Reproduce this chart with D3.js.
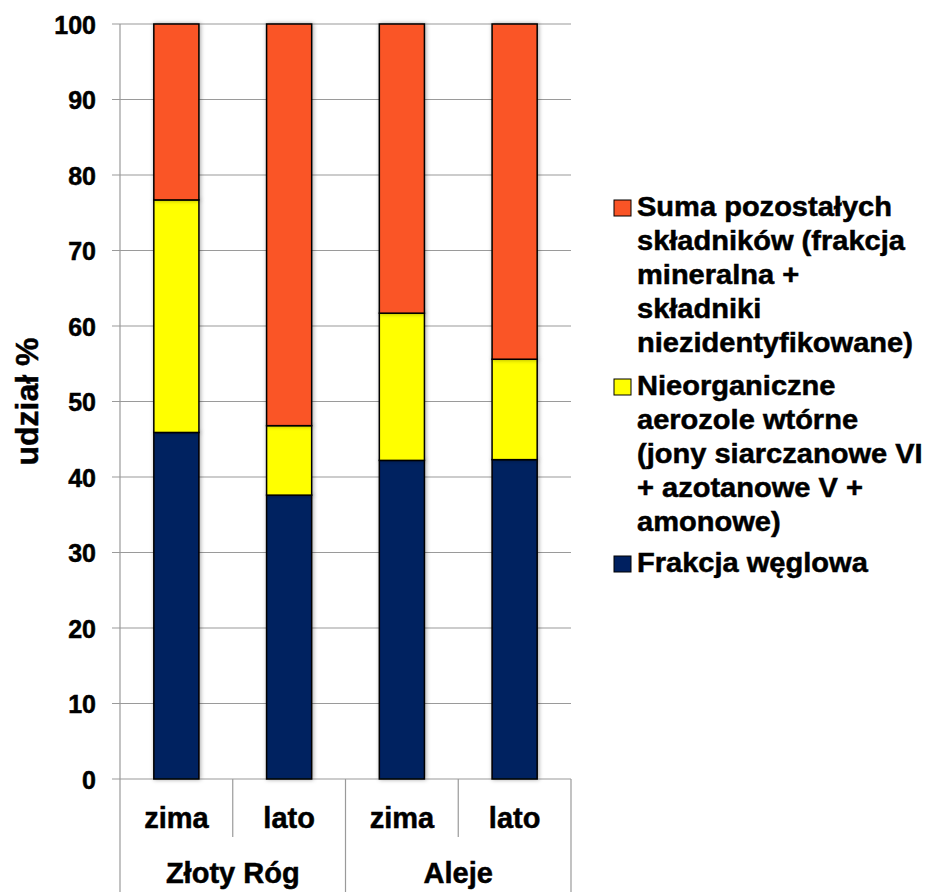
<!DOCTYPE html>
<html>
<head>
<meta charset="utf-8">
<script src="https://cdn.jsdelivr.net/npm/d3@7"></script>
<style>
  body { margin: 0; background: #fff; }
  text { font-family: "Liberation Sans", Arial, sans-serif; font-weight: bold; fill: #000; stroke: #000; stroke-width: 0.5px; }
</style>
</head>
<body>
<svg id="chart" width="927" height="892"></svg>
<script>
const seasons = ["zima", "lato", "zima", "lato"];
const sites = ["Złoty Róg", "Aleje"];
const carbon = [45.9, 37.6, 42.2, 42.3];
const secondary = [30.8, 9.2, 19.5, 13.3];
const rest = [23.3, 53.2, 38.3, 44.4];
const yTicks = [0, 10, 20, 30, 40, 50, 60, 70, 80, 90, 100];

const colors = ["#002060", "#FFFF00", "#FA5426"];
const legendLines = [
  ["Suma pozostałych", "składników (frakcja", "mineralna +", "składniki", "niezidentyfikowane)"],
  ["Nieorganiczne", "aerozole wtórne", "(jony siarczanowe VI", "+ azotanowe V +", "amonowe)"],
  ["Frakcja węglowa"]
];
const legendColors = ["#FA5426", "#FFFF00", "#002060"];

const svg = d3.select("#chart");
const margin = { top: 24, left: 120, right: 356, bottom: 113 };
const width = 927 - margin.left - margin.right;
const height = 892 - margin.top - margin.bottom;

const defs = svg.append("defs");
const filter = defs.append("filter").attr("id", "shadow")
  .attr("x", "-20%").attr("y", "-5%").attr("width", "140%").attr("height", "110%");
filter.append("feDropShadow").attr("dx", 1).attr("dy", 0).attr("stdDeviation", 2)
  .attr("flood-color", "#000").attr("flood-opacity", 0.35);

const g = svg.append("g").attr("transform", `translate(${margin.left},${margin.top})`);

const idx = d3.range(seasons.length);
const x = d3.scaleBand().domain(idx).range([0, width]).paddingInner(0.6).paddingOuter(0.3);
const y = d3.scaleLinear().domain([0, 100]).range([height, 0]);

// gridlines
g.selectAll(".grid").data(yTicks).join("line")
  .attr("x1", -8).attr("x2", width)
  .attr("y1", d => y(d)).attr("y2", d => y(d))
  .attr("stroke", "#9a9a9a").attr("stroke-width", 1.2);

// y axis
const yAxis = g.append("g").call(d3.axisLeft(y).tickValues(yTicks).tickSize(0).tickPadding(24));
yAxis.select(".domain").remove();
yAxis.selectAll("text").style("font-size", "25px").attr("dy", "0.36em");
g.append("line").attr("x1", 0).attr("x2", 0).attr("y1", 0).attr("y2", 892 - margin.top)
  .attr("stroke", "#9a9a9a").attr("stroke-width", 1.2);

// stacked bars
const rows = idx.map(i => ({ i, c: carbon[i], s: secondary[i], r: rest[i] }));
const stack = d3.stack().keys(["c", "s", "r"])(rows);
g.selectAll(".layer").data(stack).join("g")
  .attr("fill", (d, k) => colors[k])
  .selectAll("rect").data(d => d).join("rect")
  .attr("x", d => x(d.data.i))
  .attr("width", x.bandwidth())
  .attr("y", d => y(d[1]))
  .attr("height", d => y(d[0]) - y(d[1]))
  .attr("stroke", "#000").attr("stroke-width", 1.5)
  .attr("filter", "url(#shadow)");

// category axis (two levels)
const cw = width / seasons.length;
idx.forEach(i => {
  g.append("text").attr("x", i * cw + cw / 2).attr("y", height + 49)
    .attr("text-anchor", "middle").style("font-size", "29px").text(seasons[i]);
  if (i % 2 === 1) {
    g.append("line").attr("x1", i * cw).attr("x2", i * cw)
      .attr("y1", height).attr("y2", height + 58).attr("stroke", "#9a9a9a").attr("stroke-width", 1.2);
  }
});
sites.forEach((s, j) => {
  g.append("text").attr("x", (j + 0.5) * width / 2).attr("y", height + 104)
    .attr("text-anchor", "middle").style("font-size", "29px").text(s);
  g.append("line").attr("x1", (j + 1) * width / 2).attr("x2", (j + 1) * width / 2)
    .attr("y1", height).attr("y2", 892 - margin.top).attr("stroke", "#9a9a9a").attr("stroke-width", 1.2);
});

// y title
svg.append("text")
  .attr("transform", `translate(38,${margin.top + height / 2}) rotate(-90)`)
  .attr("text-anchor", "middle").style("font-size", "32px").text("udział %");

// legend
const legend = svg.append("g").attr("transform", "translate(614,0)");
const entryBase = [216, 395, 572];
legendLines.forEach((lines, k) => {
  legend.append("rect").attr("x", 0).attr("y", entryBase[k] - 16).attr("width", 17).attr("height", 16)
    .attr("fill", legendColors[k]).attr("stroke", "#000").attr("stroke-width", 1);
  lines.forEach((t, l) => {
    legend.append("text")
      .attr("transform", `translate(23,${entryBase[k] + l * 34}) scale(1.076,1)`)
      .style("font-size", "27px").text(t);
  });
});
</script>
</body>
</html>
